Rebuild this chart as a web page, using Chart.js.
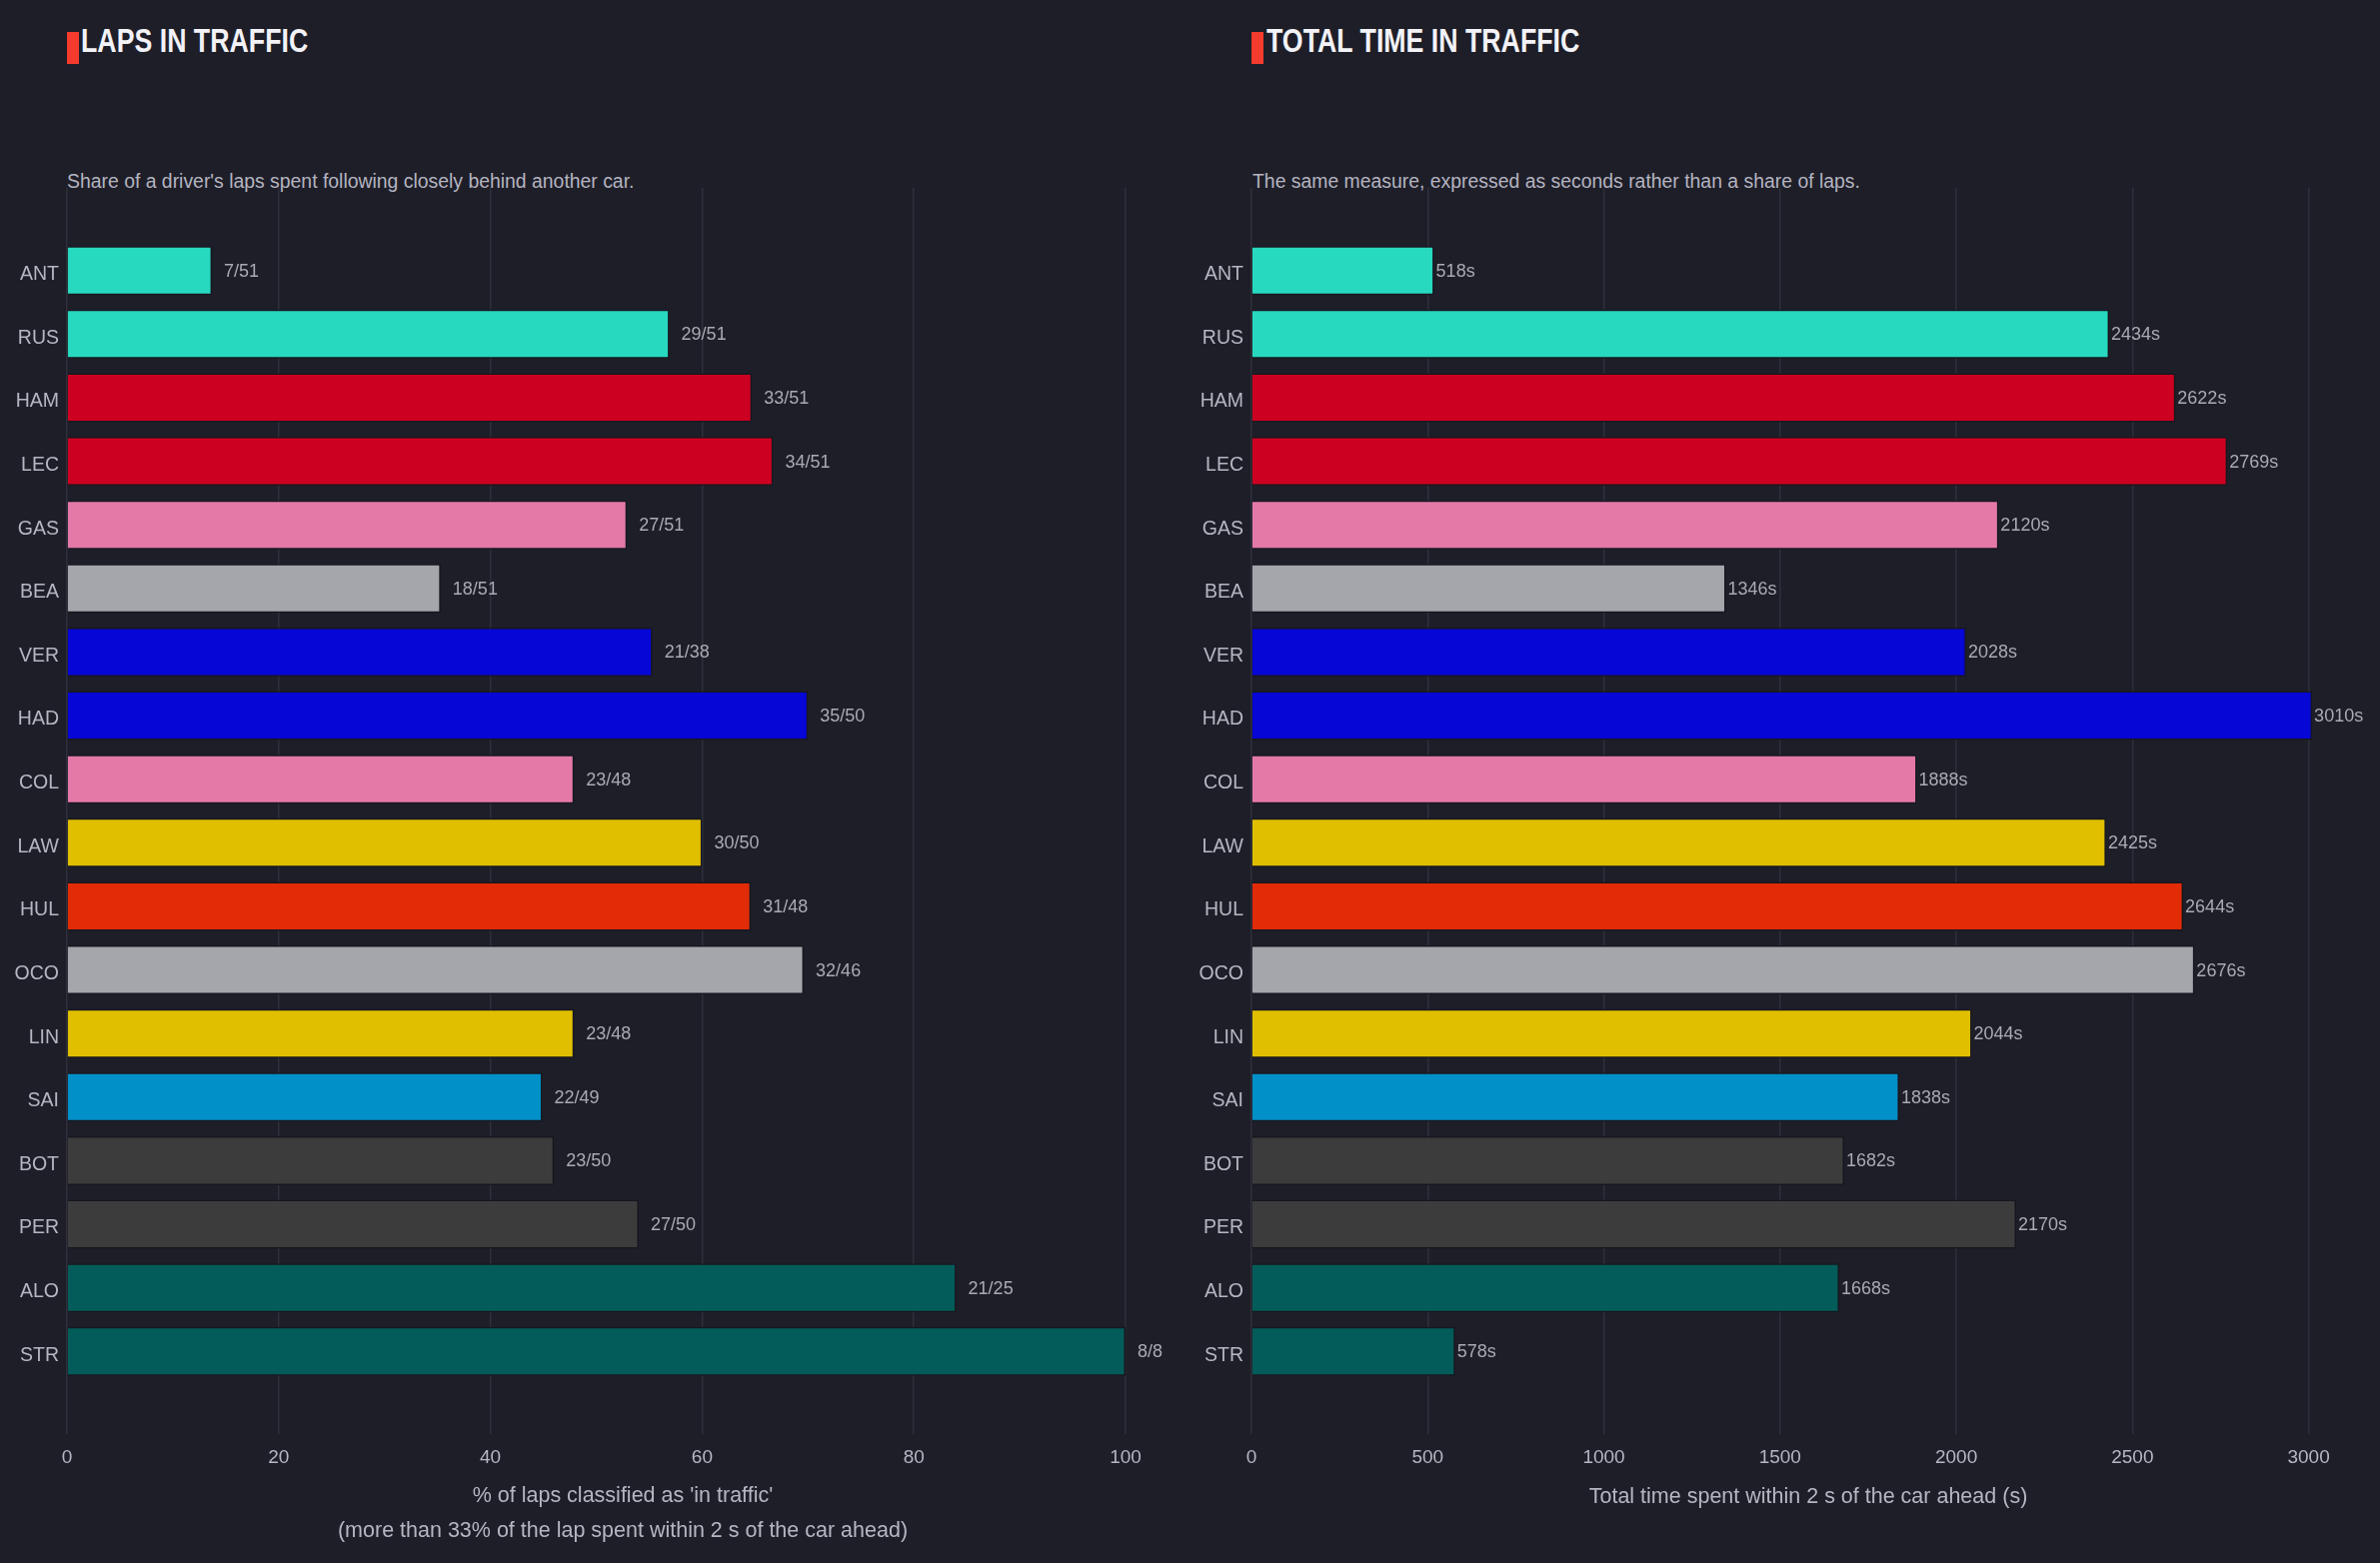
<!DOCTYPE html>
<html>
<head>
<meta charset="UTF-8">
<title>Laps in traffic</title>
<script src="https://cdn.jsdelivr.net/npm/chart.js"></script>
<style>
body { margin: 0; background-color: #1e1e28; width: 2381px; height: 1564px; overflow: hidden; font-family: "Liberation Sans", Arial, sans-serif; }
.panel { position: absolute; top: 0; height: 1564px; }
.marker { position: absolute; top: 32px; width: 12px; height: 32px; background-color: #f53b2d; }
.title { position: absolute; top: 24px; font-weight: bold; font-size: 33px; line-height: 33px; color: #f2f2f7; white-space: nowrap; transform: scaleX(0.81); transform-origin: left center; }
.subtitle { position: absolute; top: 172px; font-size: 19.4px; line-height: 19px; color: #b4b4c0; white-space: nowrap; }
</style>
</head>
<body>
<div class="marker" style="left:67px"></div>
<div class="title" style="left:81px">LAPS IN TRAFFIC</div>
<div class="subtitle" style="left:67px">Share of a driver's laps spent following closely behind another car.</div>
<div class="marker" style="left:1252px"></div>
<div class="title" style="left:1267px">TOTAL TIME IN TRAFFIC</div>
<div class="subtitle" style="left:1253px">The same measure, expressed as seconds rather than a share of laps.</div>

<div class="panel" style="left:0;width:1190px"><canvas id="lapsChart" width="1190" height="1564"></canvas></div>
<div class="panel" style="left:1190px;width:1191px"><canvas id="timeChart" width="1191" height="1564"></canvas></div>

<script>
// Data
const drivers       = ['ANT', 'RUS', 'HAM', 'LEC', 'GAS', 'BEA', 'VER', 'HAD', 'COL', 'LAW', 'HUL', 'OCO', 'LIN', 'SAI', 'BOT', 'PER', 'ALO', 'STR'];
const sharePct      = [13.7, 56.9, 64.7, 66.7, 52.9, 35.3, 55.3, 70.0, 47.9, 60.0, 64.6, 69.6, 47.9, 44.9, 46.0, 54.0, 84.0, 100.0];
const lapsInTraffic = [7, 29, 33, 34, 27, 18, 21, 35, 23, 30, 31, 32, 23, 22, 23, 27, 21, 8];
const lapsTotal     = [51, 51, 51, 51, 51, 51, 38, 50, 48, 50, 48, 46, 48, 49, 50, 50, 25, 8];
const timeInTraffic = [518, 2434, 2622, 2769, 2120, 1346, 2028, 3010, 1888, 2425, 2644, 2676, 2044, 1838, 1682, 2170, 1668, 578];
const shareTicks    = [0, 20, 40, 60, 80, 100];
const timeTicks     = [0, 500, 1000, 1500, 2000, 2500, 3000];
const barColors     = [
    '#27d9bf', '#27d9bf', '#cc0020', '#cc0020', '#e479a8', '#a4a6ab',
    '#0606d6', '#0606d6', '#e479a8', '#e0bf00', '#e22b07', '#a4a6ab',
    '#e0bf00', '#0290c8', '#3c3c3c', '#3c3c3c', '#035c59', '#035c59'
];

const lapsTitle = ["% of laps classified as 'in traffic'", '(more than 33% of the lap spent within 2 s of the car ahead)'];
const timeTitle = ['Total time spent within 2 s of the car ahead (s)'];

// Shared look
const TEXT_COLOR  = '#b6b6c2';
const LABEL_COLOR = '#aaaab4';
const GRID_COLOR  = '#2e2f3a';
const FONT        = '"Liberation Sans", Arial, sans-serif';

Chart.defaults.font.family = FONT;
Chart.defaults.color       = TEXT_COLOR;

const valueLabels = (texts, gap) => ({
    id: 'valueLabels',
    afterDatasetsDraw(chart) {
        const {ctx} = chart;
        ctx.save();
        ctx.font         = '18px ' + FONT;
        ctx.fillStyle    = LABEL_COLOR;
        ctx.textAlign    = 'left';
        ctx.textBaseline = 'middle';
        chart.getDatasetMeta(0).data.forEach((bar, i) => {
            ctx.fillText(texts[i], bar.x + gap, bar.y + 1);
        });
        ctx.restore();
    }
});

const makeChart = ({canvasId, values, xMax, tickValues, axisWidth, padRight, title, titlePad, labels, gap}) => new Chart(document.getElementById(canvasId), {
    type: 'bar',
    data: {
        datasets: [{
            data: values.map((v, i) => ({x: v, y: i})),
            backgroundColor: barColors,
            borderColor: '#17171f',
            borderWidth: 1.5,
            categoryPercentage: 1,
            barPercentage: 0.77
        }]
    },
    options: {
        indexAxis: 'y',
        responsive: false,
        animation: false,
        layout: {padding: {top: 188, right: padRight, bottom: 0, left: 0}},
        plugins: {legend: {display: false}, tooltip: {enabled: false}},
        scales: {
            y: {
                type: 'linear',
                reverse: true,
                offset: false,
                min: -1.3,
                max: 18.3,
                grid: {display: false, drawTicks: false},
                border: {display: false},
                afterBuildTicks: (axis) => { axis.ticks = drivers.map((_, i) => ({value: i})); },
                afterFit: (axis) => { axis.width = axisWidth; },
                ticks: {
                    autoSkip: false,
                    padding: 8,
                    labelOffset: 4,
                    color: TEXT_COLOR,
                    font: {size: 19.5},
                    callback: (value) => drivers[value]
                }
            },
            x: {
                type: 'linear',
                min: 0,
                max: xMax,
                grid: {color: GRID_COLOR, lineWidth: 1.5, drawTicks: false},
                border: {display: false},
                afterBuildTicks: (axis) => { axis.ticks = tickValues.map((v) => ({value: v})); },
                afterFit: (axis) => { axis.height = 129; },
                ticks: {
                    autoSkip: false,
                    padding: 12,
                    color: TEXT_COLOR,
                    font: {size: 19},
                    callback: (value) => String(value)
                },
                title: {
                    display: true,
                    text: title,
                    color: TEXT_COLOR,
                    font: {size: 21.5, lineHeight: 1.65},
                    padding: {top: 0, bottom: titlePad}
                }
            }
        }
    },
    plugins: [valueLabels(labels, gap)]
});

makeChart({
    canvasId: 'lapsChart',
    values: sharePct,
    xMax: 105,
    tickValues: shareTicks,
    axisWidth: 67,
    padRight: 11,
    title: lapsTitle,
    titlePad: 14,
    labels: lapsInTraffic.map((n, i) => n + '/' + lapsTotal[i]),
    gap: 12
});

makeChart({
    canvasId: 'timeChart',
    values: timeInTraffic,
    xMax: 3160,
    tickValues: timeTicks,
    axisWidth: 62,
    padRight: 15,
    title: timeTitle,
    titlePad: 48,
    labels: timeInTraffic.map((t) => t + 's'),
    gap: 2
});
</script>
</body>
</html>
